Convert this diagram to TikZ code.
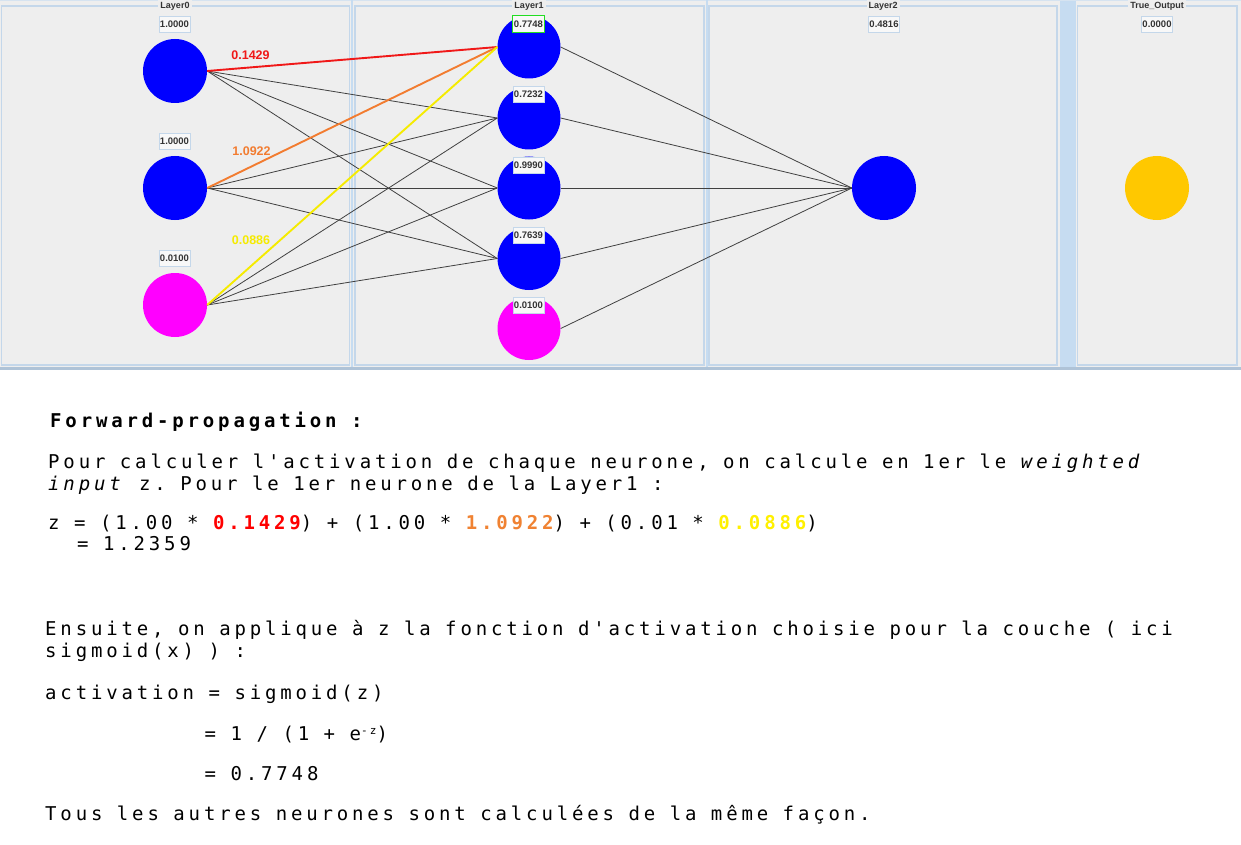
\documentclass[tikz,border=0pt]{standalone}
\usepackage{fontspec}
\setmonofont{DejaVu Sans Mono}[LetterSpace=20.2]
\newfontfamily\uifont{Liberation Sans}
\newcommand\codesetup{\ttfamily\fontsize{19}{22}\selectfont\spaceskip=14.5pt\relax\xspaceskip=14.5pt\relax}
\definecolor{panelbg}{HTML}{EEEEEE}
\definecolor{panelborder}{HTML}{C4D7EA}
\definecolor{splitter}{HTML}{C6DCF1}
\definecolor{bottomline}{HTML}{AFC3D7}
\definecolor{nblue}{HTML}{0000FF}
\definecolor{nmagenta}{HTML}{FF00FF}
\definecolor{ngold}{HTML}{FFC800}
\definecolor{wred}{HTML}{F01818}
\definecolor{worange}{HTML}{F27C30}
\definecolor{wyellow}{HTML}{F5EB00}
\definecolor{tred}{HTML}{FF0000}
\definecolor{torange}{HTML}{F08232}
\definecolor{tyellow}{HTML}{FFF000}
\definecolor{conngray}{HTML}{404040}
\definecolor{valtext}{HTML}{333333}
\definecolor{hlgreen}{HTML}{22DD22}
\tikzset{
  neuron/.style={circle, minimum size=64pt, inner sep=0pt, draw=none},
  l1neuron/.style={circle, minimum size=63pt, inner sep=0pt, draw=none},
  valbox/.style={draw=panelborder, line width=0.8pt, fill=white!60!panelbg, text=valtext,
    font=\uifont\bfseries\fontsize{9.5}{10}\selectfont, minimum width=31pt, minimum height=16pt, inner sep=0pt},
  hlbox/.style={valbox, draw=hlgreen, line width=1.8pt, minimum width=32pt, minimum height=17pt},
  paneltitle/.style={fill=panelbg, text=valtext, font=\uifont\bfseries\fontsize{9}{10}\selectfont, inner sep=2pt},
  wlabel/.style={font=\uifont\bfseries\fontsize{12.5}{13}\selectfont, inner sep=0pt},
  conn/.style={draw=conngray, line width=0.8pt},
  hot/.style={line width=1.9pt},
  panel/.style={draw=panelborder, line width=1.4pt},
  code/.style={anchor=base west, inner sep=0pt, font=\codesetup}
}
\begin{document}
\begin{tikzpicture}[x=1pt,y=-1pt]
\useasboundingbox (0,0) rectangle (1241,845);
\fill[white] (0,0) rectangle (1241,845);
% top GUI area
\fill[panelbg] (0,0) rectangle (1241,367);
\fill[splitter] (1060,0) rectangle (1075.5,367);
\draw[bottomline, line width=2.5pt] (0,368.5) -- (1241,368.5);
\draw[panelborder!70!white, line width=0.8pt] (0,0.5) -- (1241,0.5);
\draw[panel] (1.5,6) rectangle (349.5,365);
\draw[panel] (355,6) rectangle (704,365);
\draw[panel] (709,6) rectangle (1057,365);
\draw[panel] (1077.5,6) rectangle (1237,365);
\draw[splitter, line width=2pt] (352.3,0) -- (352.3,367);
\draw[splitter, line width=2pt] (706.5,0) -- (706.5,367);

\node[paneltitle] (t0) at (175,6.5) {Layer0};
\node[paneltitle] (t1) at (529,6.5) {Layer1};
\node[paneltitle] (t2) at (883,6.5) {Layer2};
\node[paneltitle] (t3) at (1157,6.5) {True\_Output};

% neurons
\node[neuron, fill=nblue] (a1) at (175,71) {};
\node[neuron, fill=nblue] (a2) at (175,188) {};
\node[neuron, fill=nmagenta] (a3) at (175,305) {};
\node[l1neuron, fill=nblue] (b1) at (529,47) {};
\node[l1neuron, fill=nblue] (b2) at (529,118) {};
\node[l1neuron, fill=nblue] (b3) at (529,188) {};
\node[l1neuron, fill=nblue] (b4) at (529,258.5) {};
\node[l1neuron, fill=nmagenta] (b5) at (529,328.5) {};
\node[neuron, fill=nblue] (c1) at (884,188) {};
\node[neuron, fill=ngold] (o1) at (1157,188) {};

% connections
\foreach \i in {a1,a2,a3}{
  \foreach \j in {b2,b3,b4}{
    \draw[conn] (\i.east) -- (\j.west);
  }
}
\foreach \j in {b1,b2,b3,b4,b5}{
  \draw[conn] (\j.east) -- (c1.west);
}
\draw[hot, draw=wred] (a1.east) -- (b1.west);
\draw[hot, draw=worange] (a2.east) -- (b1.west);
\draw[hot, draw=wyellow] (a3.east) -- (b1.west);

% weight labels
\node[wlabel, text=wred] (w1) at (250.5,55) {0.1429};
\node[wlabel, text=worange] (w2) at (251.5,151) {1.0922};
\node[wlabel, text=wyellow] (w3) at (251,240.5) {0.0886};

% value boxes
\node[valbox] (va1) at (174.5,24) {1.0000};
\node[valbox] (va2) at (174.5,141) {1.0000};
\node[valbox] (va3) at (174.5,258) {0.0100};
\node[hlbox] (vb1) at (528.5,24) {0.7748};
\node[valbox] (vb2) at (528.5,94.5) {0.7232};
\node[valbox] (vb3) at (528.5,165) {0.9990};
\node[valbox] (vb4) at (528.5,235.5) {0.7639};
\node[valbox] (vb5) at (528.5,305.5) {0.0100};
\node[valbox] (vc1) at (884,24) {0.4816};
\node[valbox] (vo1) at (1157,24) {0.0000};

% explanation text
\node[code] (l1) at (50,427) {\bfseries Forward-propagation :};
\node[code] (l2) at (48,468) {Pour calculer l'activation de chaque neurone, on calcule en 1er le \textit{weighted}};
\node[code] (l3) at (48,490) {\textit{input} z. Pour le 1er neurone de la Layer1 :};
\node[code] (l4) at (48,529.5) {z = (1.00 * {\bfseries\color{tred}0.1429}) + (1.00 * {\bfseries\color{torange}1.0922}) + (0.01 * {\bfseries\color{tyellow}0.0886})};
\node[code] (l5) at (77,550.5) {= 1.2359};
\node[code] (l6) at (45,635) {Ensuite, on applique à z la fonction d'activation choisie pour la couche ( ici};
\node[code] (l7) at (45,657) {sigmoid(x) ) :};
\node[code] (l8) at (45,699) {activation = sigmoid(z)};
\node[code] (l9) at (204.5,740) {= 1 / (1 + e\raisebox{5.5pt}{\fontsize{11}{11}\selectfont -z})};
\node[code] (l10) at (204.5,780) {= 0.7748};
\node[code] (l11) at (45,820) {Tous les autres neurones sont calculées de la même façon.};
\end{tikzpicture}
\end{document}
